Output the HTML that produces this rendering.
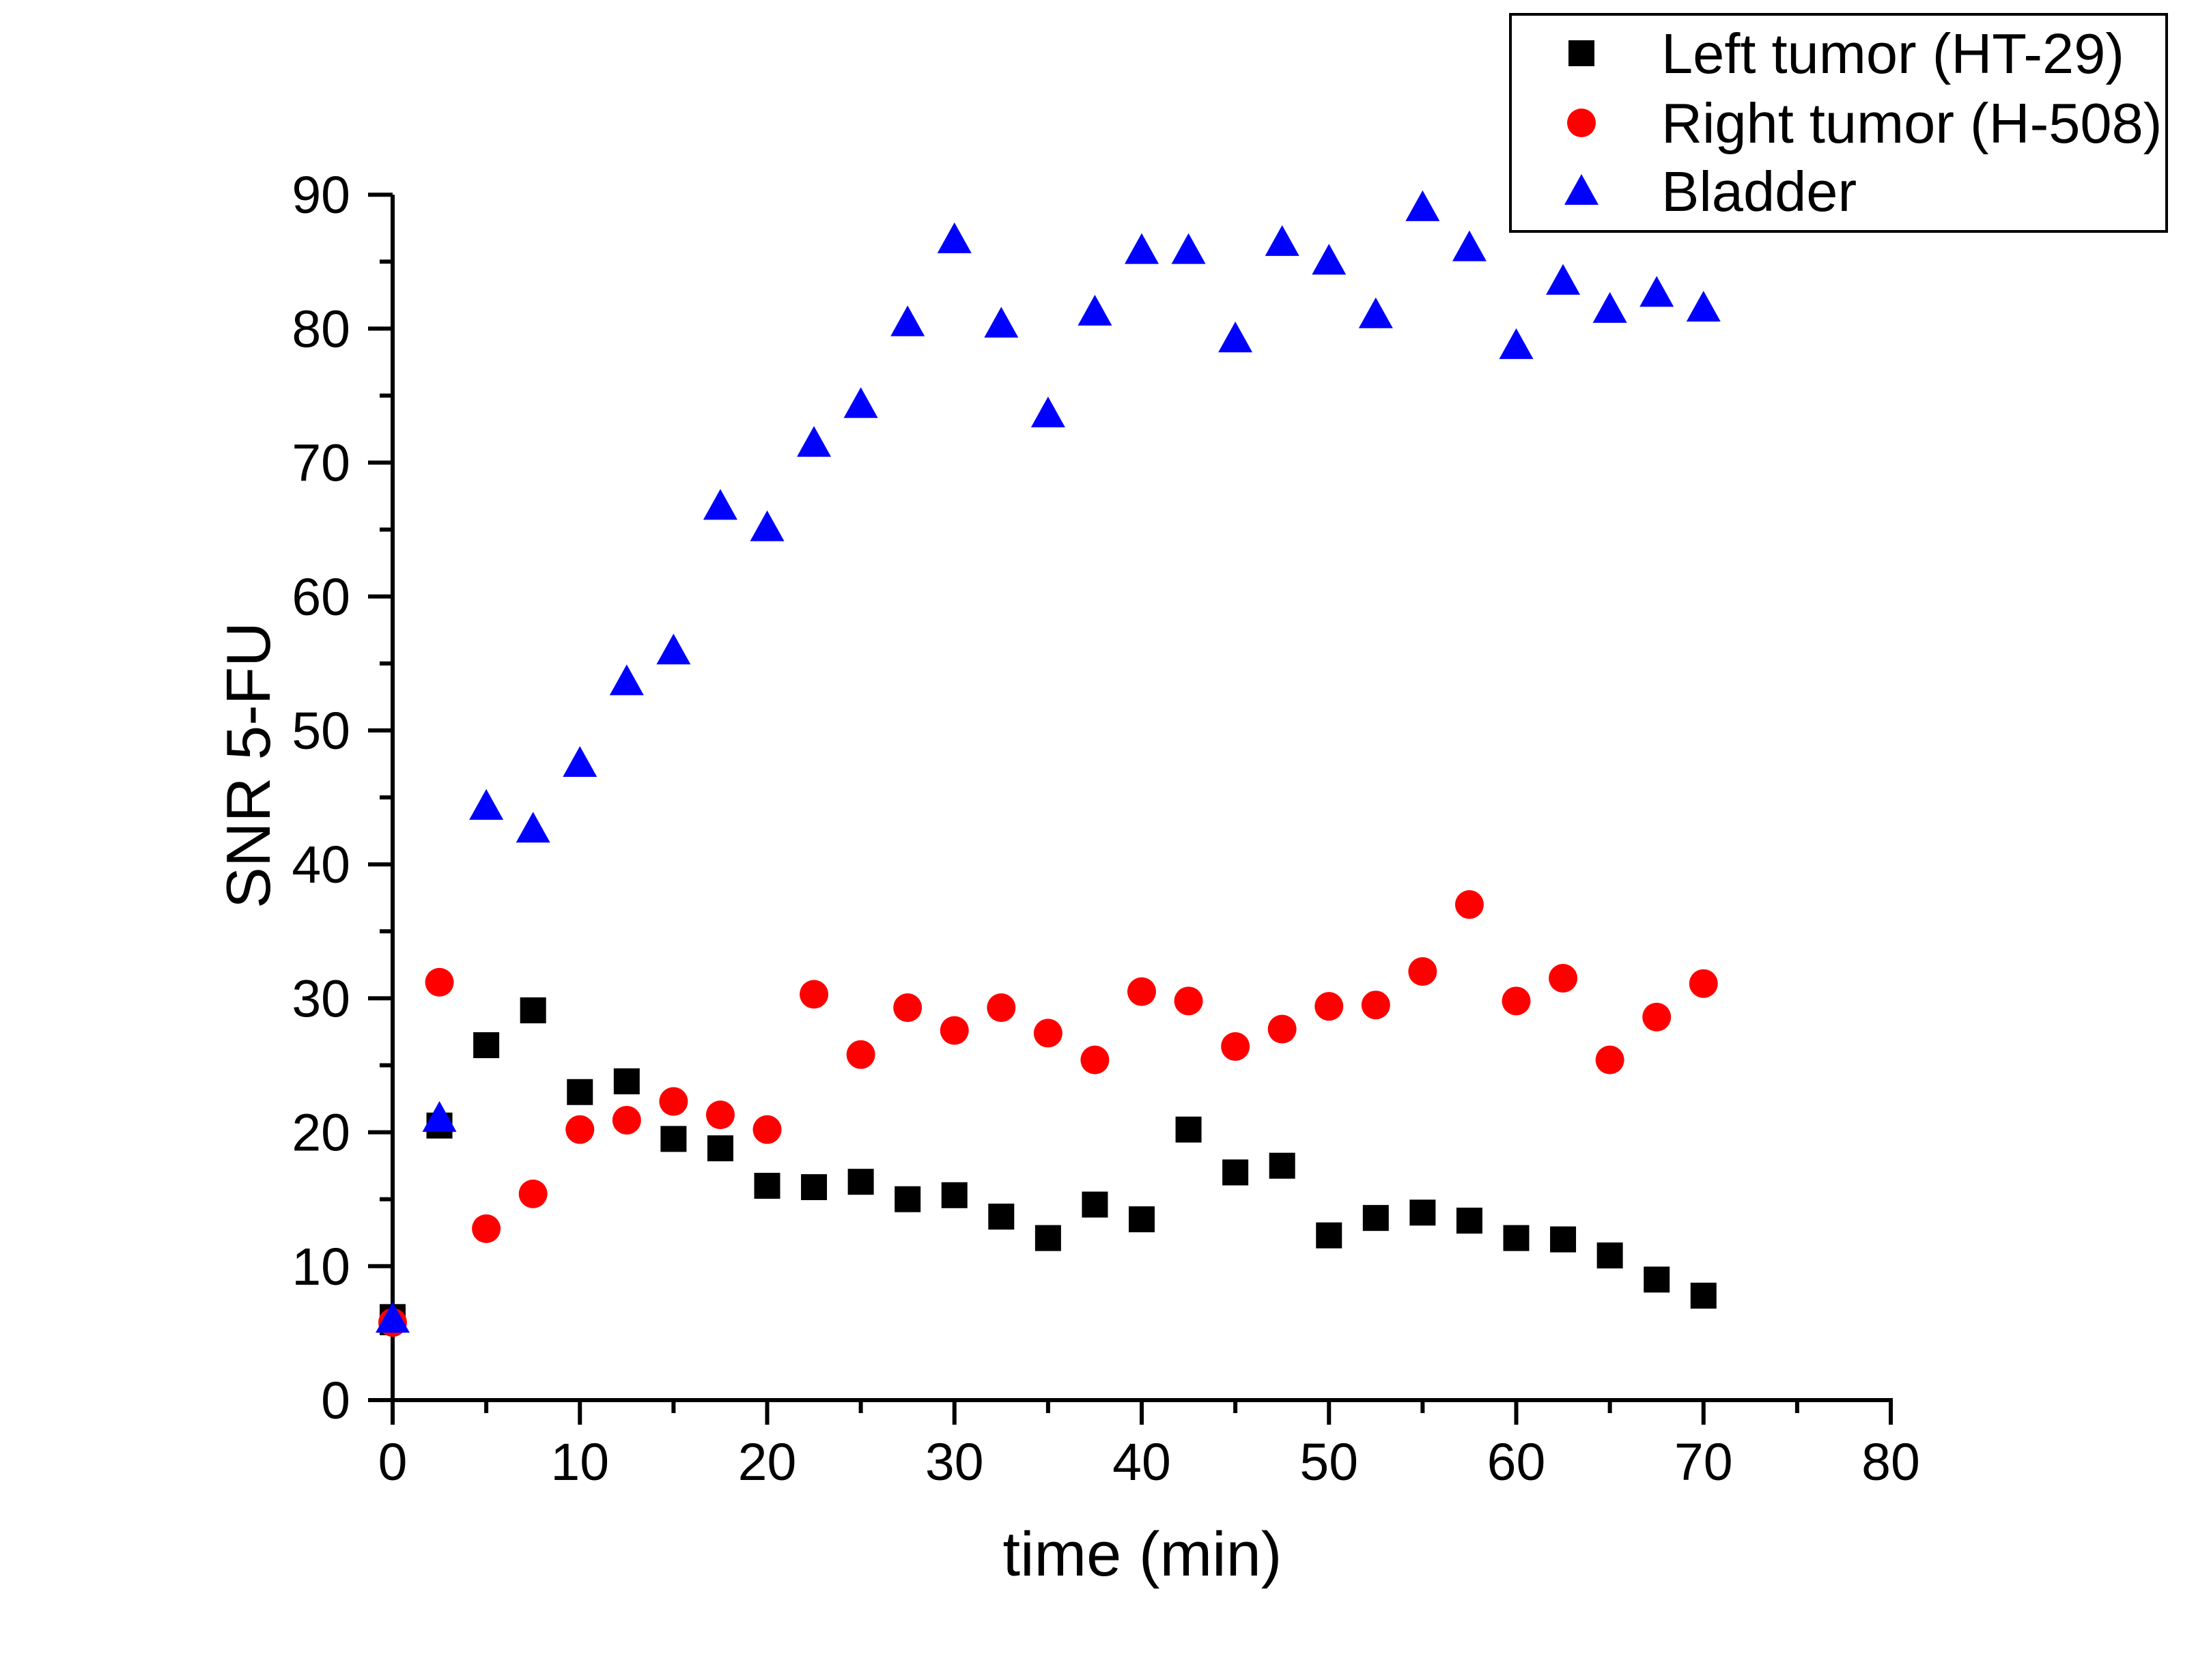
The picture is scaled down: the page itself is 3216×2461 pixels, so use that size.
<!DOCTYPE html>
<html><head><meta charset="utf-8"><style>
html,body{margin:0;padding:0;background:#fff;}
svg{display:block;font-family:"Liberation Sans",Arial,sans-serif;}
</style></head><body>
<svg id="chart" width="3216" height="2461" viewBox="0 0 3216 2461" xmlns="http://www.w3.org/2000/svg">
<rect width="3216" height="2461" fill="#fff"/>
<g id="axes"></g>
<g id="marks"></g>
<text x="1673" y="2308" font-size="92" text-anchor="middle">time (min)</text>
<text transform="translate(395,1121) rotate(-90)" font-size="91" text-anchor="middle">SNR 5-FU</text>
<g>
<rect x="2212" y="21" width="961" height="318" fill="#fff" stroke="#000" stroke-width="4"/>
<rect x="2297" y="59" width="38" height="38" fill="#000"/>
<text x="2433" y="107" font-size="83">Left tumor (HT-29)</text>
<circle cx="2316" cy="180" r="21" fill="#f00"/>
<text x="2433" y="209" font-size="83">Right tumor (H-508)</text>
<polygon points="2291,300 2341,300 2316,255" fill="#00f"/>
<text x="2433" y="309" font-size="83">Bladder</text>
</g>
</svg>
<script>
const times = [0,2.5,5,7.5,10,12.5,15,17.5,20,22.5,25,27.5,30,32.5,35,37.5,40,42.5,45,47.5,50,52.5,55,57.5,60,62.5,65,67.5,70];
const leftTumor = [6.2,20.5,26.5,29.1,23.0,23.8,19.5,18.8,16.0,15.9,16.3,15.0,15.3,13.7,12.1,14.6,13.5,20.2,17.0,17.5,12.3,13.6,14.0,13.4,12.1,12.0,10.8,9.0,7.8];
const rightTumor = [5.8,31.2,12.8,15.4,20.2,20.9,22.3,21.3,20.2,30.3,25.8,29.3,27.6,29.3,27.4,25.4,30.5,29.8,26.4,27.7,29.4,29.5,32.0,37.0,29.8,31.5,25.4,28.6,31.1];
const bladder = [6.0,21.0,44.3,42.6,47.5,53.6,55.9,66.7,65.1,71.4,74.3,80.4,86.6,80.3,73.6,81.2,85.8,85.8,79.2,86.4,85.0,81.0,89.0,86.0,78.7,83.5,81.4,82.6,81.5];
const xTicks = [0,10,20,30,40,50,60,70,80];
const yTicks = [0,10,20,30,40,50,60,70,80,90];

const NS = "http://www.w3.org/2000/svg";
const X0 = 575, XPER = 274.25/10, Y0 = 2051, YPER = 196.2/10;
function sx(v){ return X0 + v*XPER; }
function sy(v){ return Y0 - v*YPER; }
function mk(tag, attrs, parent){
  const e = document.createElementNS(NS, tag);
  for (const k in attrs) e.setAttribute(k, attrs[k]);
  parent.appendChild(e);
  return e;
}
const axes = document.getElementById('axes');
const marks = document.getElementById('marks');

let a = mk('line', {x1:sx(0), y1:sy(0)+3, x2:sx(0), y2:sy(90), stroke:'#000','stroke-width':6}, axes);


a = mk('line', {x1:sx(0)-3, y1:sy(0), x2:sx(80)+3, y2:sy(0), stroke:'#000','stroke-width':6}, axes);



xTicks.forEach((t, i) => {
  const l = mk('line', {x1:sx(t), y1:sy(0), x2:sx(t), y2:sy(0)+36, stroke:'#000','stroke-width':6}, axes);
  
  
  if (i < xTicks.length - 1) {
    const m = mk('line', {x1:sx(t+5), y1:sy(0), x2:sx(t+5), y2:sy(0)+19, stroke:'#000','stroke-width':6}, axes);
    
    
  }
  const tx = mk('text', {x:sx(t), y:2168, 'font-size':77, 'text-anchor':'middle'}, axes);
  tx.textContent = t;
  
  
});
yTicks.forEach((t, i) => {
  const l = mk('line', {x1:sx(0), y1:sy(t), x2:sx(0)-36, y2:sy(t), stroke:'#000','stroke-width':6}, axes);
  
  
  if (i < yTicks.length - 1) {
    const m = mk('line', {x1:sx(0), y1:sy(t+5), x2:sx(0)-19, y2:sy(t+5), stroke:'#000','stroke-width':6}, axes);
    
    
  }
  const tx = mk('text', {x:513, y:sy(t)+27, 'font-size':77, 'text-anchor':'end'}, axes);
  tx.textContent = t;
  
  
});

times.forEach((t, i) => {
  const cx = sx(t), cy = sy(leftTumor[i]);
  const s = mk('rect', {x:cx-19, y:cy-19, width:38, height:38, fill:'#000'}, marks);
  
  
});
times.forEach((t, i) => {
  const c = mk('circle', {cx:sx(t), cy:sy(rightTumor[i]), r:21, fill:'#f00'}, marks);
  
  
});
times.forEach((t, i) => {
  const cx = sx(t), cy = sy(bladder[i]);
  const p = mk('polygon', {points:`${cx-25},${cy+19} ${cx+25},${cy+19} ${cx},${cy-26}`, fill:'#00f'}, marks);
  
  
});
</script>
</body></html>
